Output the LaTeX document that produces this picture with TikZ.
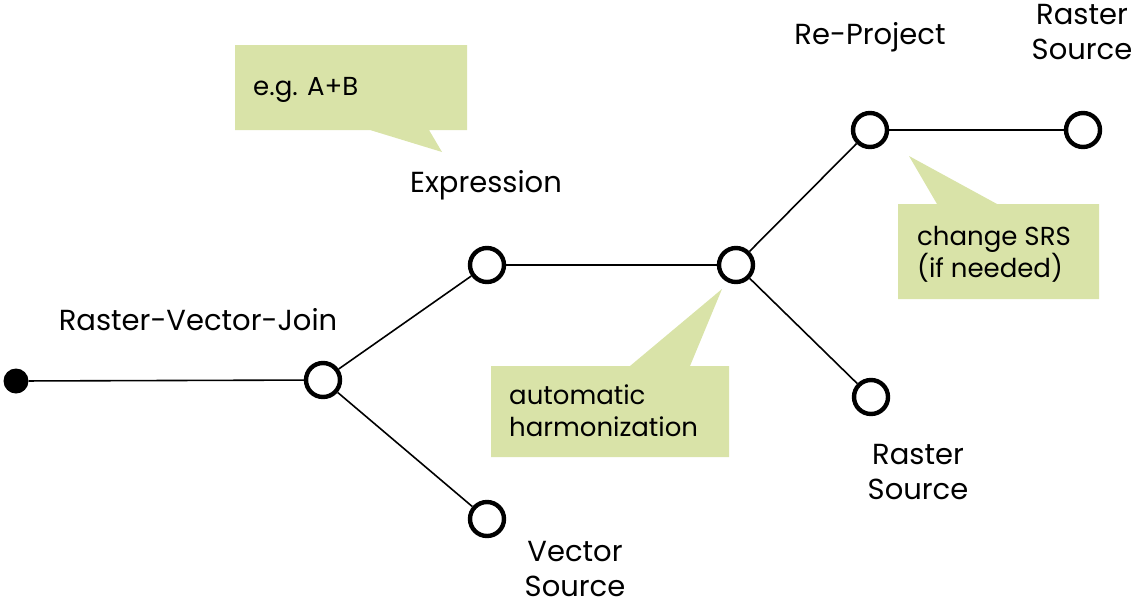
\documentclass[tikz,border=0pt]{standalone}
\usepackage{fontspec}
\setmainfont{Poppins}
\definecolor{callout}{HTML}{D9E3A8}
\begin{document}
\begin{tikzpicture}[x=1pt,y=-1pt,
  hub/.style={circle,draw=black,line width=4.4pt,fill=white,minimum size=34pt,inner sep=0pt},
  startdot/.style={circle,fill=black,minimum size=25pt,inner sep=0pt},
  conn/.style={line width=1.6pt},
  lbl/.style={font=\fontsize{29}{35}\selectfont,align=center,inner sep=0pt},
  ctext/.style={font=\fontsize{26}{32}\selectfont,align=left,anchor=west,inner sep=0pt},
  bubble/.style={fill=callout,draw=none}]
\useasboundingbox (0,0) rectangle (1139,600);
% callouts
\fill[bubble] (235,45) -- (467,45) -- (467,130) -- (429,130) -- (442,152) -- (370,130) -- (235,130) -- cycle;
\node[ctext] (cA) at (253,90) {e.g. A+B};
\fill[bubble] (491,366) -- (630,366) -- (722,289) -- (690,366) -- (729,366) -- (729,457) -- (491,457) -- cycle;
\node[ctext] (cB) at (509,411) {automatic\\harmonization};
\fill[bubble] (898,204) -- (937,204) -- (909,156) -- (997,204) -- (1099,204) -- (1099,299) -- (898,299) -- cycle;
\node[ctext] (cC) at (917,254) {change SRS\\(if needed)};
% nodes
\node[startdot] (s) at (16,381) {};
\node[hub] (rvj) at (323,380) {};
\node[hub] (expr) at (487,265) {};
\node[hub] (vec) at (487,519) {};
\node[hub] (harm) at (736,265) {};
\node[hub] (rep) at (870,130) {};
\node[hub] (rs1) at (1083,130) {};
\node[hub] (rs2) at (871,397) {};
% connectors
\draw[conn] (s) -- (rvj);
\draw[conn] (rvj) -- (expr);
\draw[conn] (rvj) -- (vec);
\draw[conn] (expr) -- (harm);
\draw[conn] (harm) -- (rep);
\draw[conn] (harm) -- (rs2);
\draw[conn] (rep) -- (rs1);
% labels
\node[lbl] (lrvj) at (198,320) {Raster-Vector-Join};
\node[lbl] (lexpr) at (486,185) {Expression};
\node[lbl] (lrep) at (870,37) {Re-Project};
\node[lbl] (lrs1) at (1082,32) {Raster\\Source};
\node[lbl] (lrs2) at (918,472) {Raster\\Source};
\node[lbl] (lvec) at (575,569) {Vector\\Source};
\end{tikzpicture}
\end{document}
